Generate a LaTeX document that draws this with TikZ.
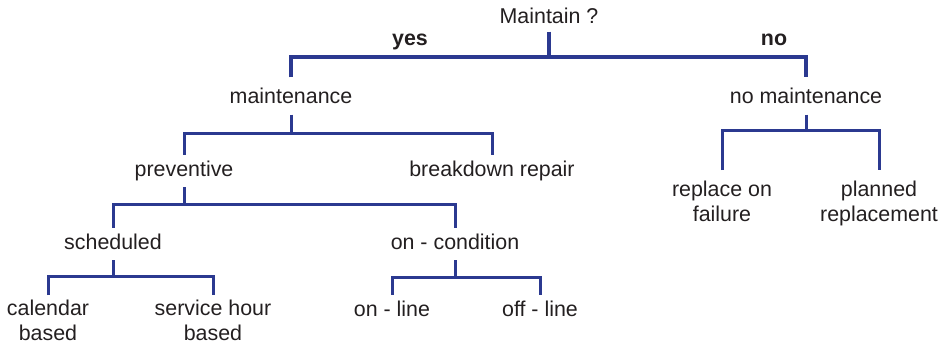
\documentclass[tikz,border=0pt]{standalone}
\usepackage{fontspec}
\setmainfont{Liberation Sans}
\definecolor{linkblue}{RGB}{43,57,144}
\definecolor{txt}{RGB}{35,31,32}
\begin{document}
\begin{tikzpicture}[x=1pt,y=1pt,
  lbl/.style={font=\fontsize{21.4}{24.8}\selectfont, text=txt, inner xsep=0pt, inner ysep=6pt, text height=15pt, text depth=5pt, anchor=base},
  lbltwo/.style={font=\fontsize{21.4}{24.4}\selectfont, text=txt, inner xsep=0pt, inner ysep=6pt, align=center, anchor=north},
  bold/.style={font=\fontsize{21.4}{24.8}\selectfont\bfseries, text=txt, inner sep=0pt, anchor=base},
  conn/.style={draw=linkblue, line width=3pt},
  topconn/.style={draw=linkblue, line width=3.6pt}]
\useasboundingbox (0,0) rectangle (943,-345);
% levels of the horizontal bars
\coordinate (lv0) at (0,-57);
\coordinate (lv1) at (0,-133);
\coordinate (lv2) at (0,-204);
\coordinate (lv3) at (0,-276);
\coordinate (lv4) at (0,-277);
\coordinate (lv5) at (0,-130);
% nodes
\node[lbl] (root) at (549,-23.5) {Maintain ?};
\node[bold] (yes) at (410,-46) {yes};
\node[bold] (no) at (774,-46) {no};
\node[lbl] (maint) at (291,-103.5) {maintenance};
\node[lbl] (nomaint) at (806,-103.5) {no maintenance};
\node[lbl] (prev) at (184,-176) {preventive};
\node[lbl] (brk) at (492,-176) {breakdown repair};
\node[lbl] (sched) at (113,-249) {scheduled};
\node[lbl] (cond) at (455,-249) {on - condition};
\node[lbltwo] (cal) at (48,-294) {calendar\\based};
\node[lbltwo] (serv) at (213,-294) {service hour\\based};
\node[lbl] (online) at (392,-316) {on - line};
\node[lbl] (offline) at (540,-316) {off - line};
\node[lbltwo] (repl) at (722,-175) {replace on\\failure};
\node[lbltwo] (plan) at (879,-175) {planned\\replacement};
% connectors
\draw[topconn] ([yshift=3pt]root.south) -- (root.south |- lv0);
\draw[topconn] ([yshift=5pt]maint.north) |- (root.south |- lv0) -| ([yshift=5pt]nomaint.north);
\draw[conn] (maint.south) -- (maint.south |- lv1);
\draw[conn] (prev.north) |- (maint.south |- lv1) -| (brk.north);
\draw[conn] (prev.south) -- (prev.south |- lv2);
\draw[conn] (sched.north) |- (prev.south |- lv2) -| (cond.north);
\draw[conn] (sched.south) -- (sched.south |- lv3);
\draw[conn] ([yshift=-1pt]cal.north) |- (sched.south |- lv3) -| ([yshift=-1pt]serv.north);
\draw[conn] (cond.south) -- (cond.south |- lv4);
\draw[conn] (online.north) |- (cond.south |- lv4) -| (offline.north);
\draw[conn] (nomaint.south) -- (nomaint.south |- lv5);
\draw[conn] ([yshift=5pt]repl.north) |- (nomaint.south |- lv5) -| ([yshift=5pt]plan.north);
\end{tikzpicture}
\end{document}
